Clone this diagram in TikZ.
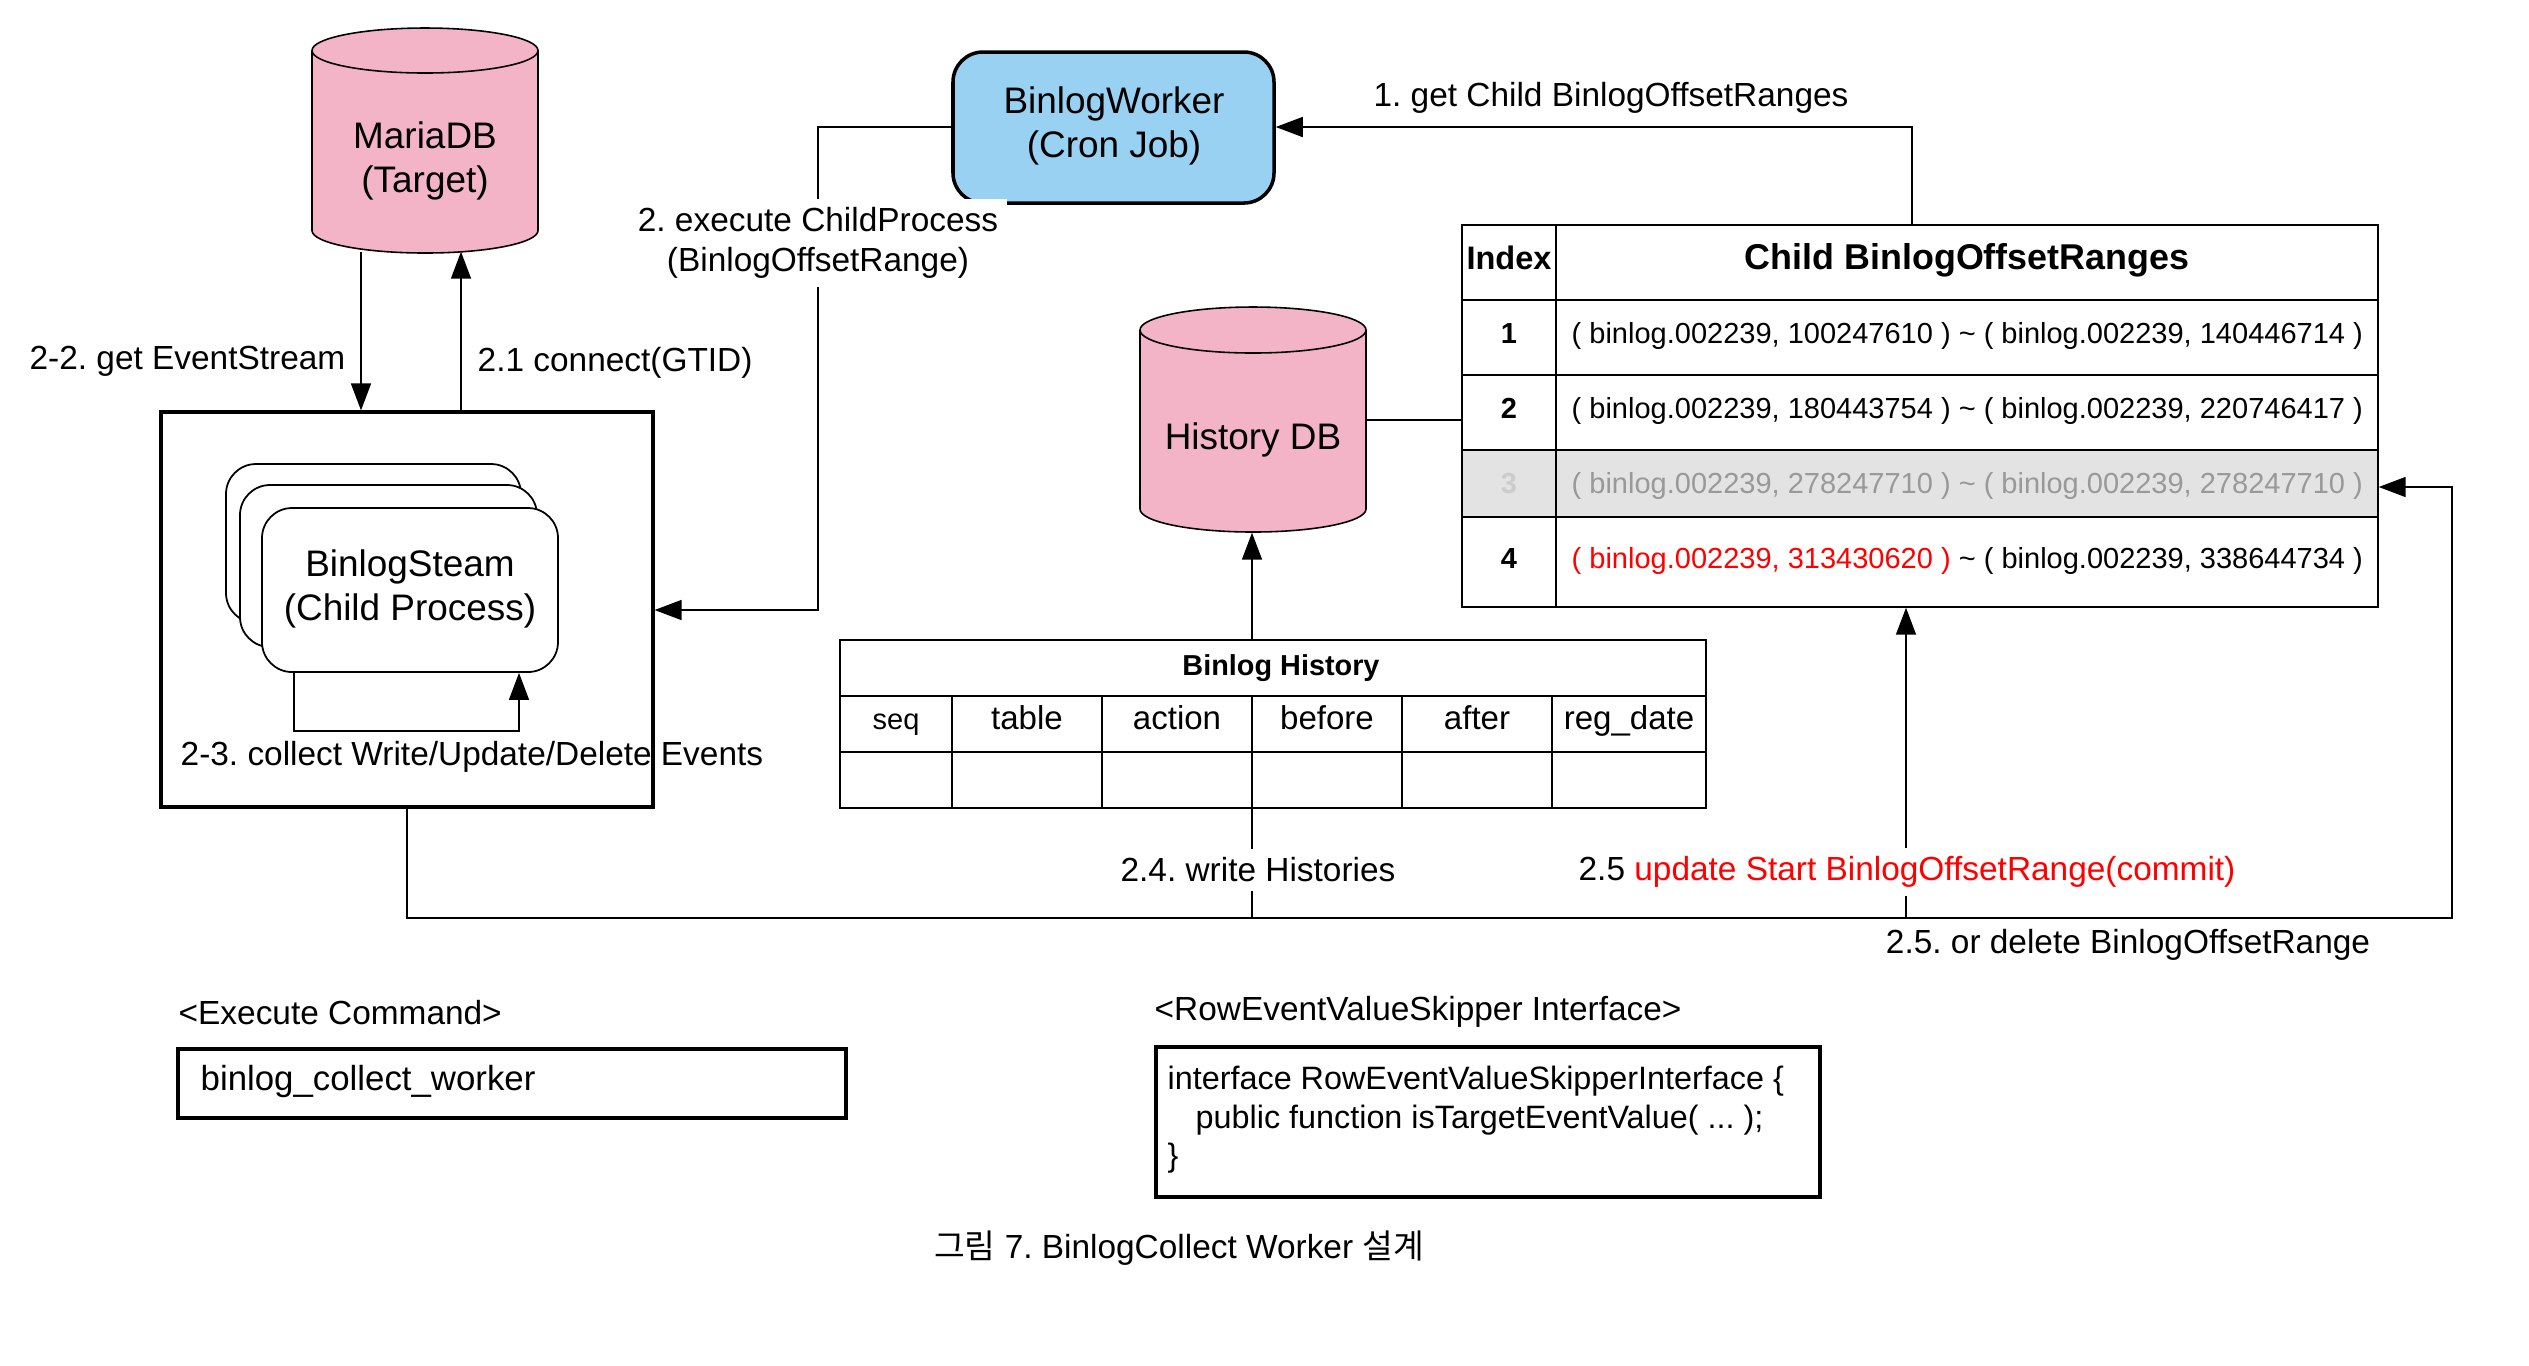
\documentclass[tikz,border=0pt]{standalone}
\usepackage{fontspec}
\setmainfont{Liberation Sans}
\newfontfamily\krfont{Noto Sans CJK KR}
\usetikzlibrary{arrows.meta,fit}
\definecolor{dbpink}{RGB}{244,180,199}
\definecolor{workerblue}{RGB}{153,209,242}
\definecolor{rowgrey}{RGB}{227,227,227}
\definecolor{txtgrey}{RGB}{153,153,153}
\definecolor{idxgrey}{RGB}{204,204,204}
\definecolor{hired}{RGB}{255,0,0}
\frenchspacing
\begin{document}
\frenchspacing
\begin{tikzpicture}[x=0.01cm,y=-0.01cm,
  conn/.style={line width=0.45pt,-{Triangle[length=0.27cm,width=0.2cm]}},
  plain/.style={line width=0.45pt},
  lbl/.style={font=\fontsize{9.5}{11.4}\selectfont, inner sep=0pt},
  wlbl/.style={lbl, fill=white, inner sep=2.5pt},
  codetxt/.style={font=\fontsize{9.2}{11}\selectfont, inner sep=0pt},
  nodetxt/.style={font=\fontsize{10.5}{12.6}\selectfont, align=center, inner sep=0pt},
  tbltxt/.style={font=\fontsize{8.25}{10}\selectfont, inner sep=0pt},
  colhead/.style={font=\fontsize{9.4}{11}\selectfont, inner sep=0pt, anchor=base},
  area/.style={inner sep=0pt},
  tblline/.style={line width=0.6pt},
  thinline/.style={line width=0.5pt},
  stackbox/.style={inner sep=0pt, draw, line width=0.5pt, fill=white, rounded corners=0.3cm},
  heavybox/.style={inner sep=0pt, draw, line width=0.9pt}
]
\useasboundingbox (0,0) rectangle (2529,1365);

% ---------- MariaDB cylinder ----------
\draw[fill=dbpink, line width=0.45pt] (312,50.5) -- (312,230.5)
  arc[start angle=180, end angle=0, x radius=113, y radius=22.5] -- (538,50.5)
  arc[start angle=0, end angle=-180, x radius=113, y radius=22.5] -- cycle;
\draw[line width=0.45pt] (312,50.5) arc[start angle=180, end angle=0, x radius=113, y radius=22.5];
\node[fit={(312,28) (538,251)}, area] (maria) {};
\node[nodetxt] (mariatxt) at (425,161) {MariaDB\\(Target)};

% ---------- History DB cylinder ----------
\draw[fill=dbpink, line width=0.45pt] (1140,330) -- (1140,509)
  arc[start angle=180, end angle=0, x radius=113, y radius=23] -- (1366,330)
  arc[start angle=0, end angle=-180, x radius=113, y radius=23] -- cycle;
\draw[line width=0.45pt] (1140,330) arc[start angle=180, end angle=0, x radius=113, y radius=23];
\node[fit={(1140,307) (1366,532)}, area] (hist) {};
\node[nodetxt] (histtxt) at (1253,440) {History DB};

% ---------- BinlogWorker ----------
\node[fit={(953,52) (1274,203)}, inner sep=0pt, draw, line width=1pt, fill=workerblue, rounded corners=0.3cm] (worker) {};
\node[nodetxt] (workertxt) at (1114,126) {BinlogWorker\\(Cron Job)};

% ---------- Big child-process box ----------
\node[fit={(161,412) (653,807)}, heavybox] (bigbox) {};
\node[fit={(226,464) (521,623)}, stackbox] (backrect) {};
\node[fit={(240,485) (537,647)}, stackbox] (midrect) {};
\node[fit={(262,508) (558,672)}, stackbox] (front) {};
\node[nodetxt] (fronttxt) at (410,589) {BinlogSteam\\(Child Process)};

% loop 2-3
\coordinate (lpL) at (294,731);
\coordinate (lpR) at (519,731);
\draw[conn] (front.south -| lpL) -- (lpL) -- (lpR) -- (front.south -| lpR);
\node[lbl, anchor=west] (l23) at (180,757) {2-3. collect Write/Update/Delete Events};

% MariaDB <-> big box
\coordinate (x22) at (361,0);
\coordinate (x21) at (461,0);
\draw[conn] (maria.south -| x22) -- (bigbox.north -| x22);
\draw[conn] (bigbox.north -| x21) -- (maria.south -| x21);
\node[lbl, anchor=east] (l22) at (346,361) {2-2. get EventStream};
\node[lbl, anchor=west] (l21) at (477,363) {2.1 connect(GTID)};

% worker -> big box
\coordinate (c2a) at (818,127);
\coordinate (c2b) at (818,610);
\draw[conn] (worker.west |- c2a) -- (c2a) -- (c2b) -- (bigbox.east |- c2b);
\node[wlbl, align=center] (l2) at (818,243) {2. execute ChildProcess\\(BinlogOffsetRange)};

% ---------- Child BinlogOffsetRanges table ----------
\node[fit={(1462,225) (2378,607)}, area] (childtbl) {};
\fill[rowgrey] (1462,450) rectangle (2378,517);
\draw[tblline] (1462,225) rectangle (2378,607);
\draw[tblline] (1462,300) -- (2378,300);
\draw[tblline] (1462,375) -- (2378,375);
\draw[tblline] (1462,450) -- (2378,450);
\draw[tblline] (1462,517) -- (2378,517);
\draw[tblline] (1556,225) -- (1556,607);
\node[font=\fontsize{9.25}{11}\selectfont\bfseries, inner sep=0pt, anchor=base] (hidx) at (1509,269) {Index};
\node[font=\fontsize{10.2}{12}\selectfont\bfseries, inner sep=0pt, anchor=base] (hrng) at (1967,269) {Child BinlogOffsetRanges};
\node[tbltxt, font=\fontsize{8.25}{10}\selectfont\bfseries, anchor=base] (i1) at (1509,343.5) {1};
\node[tbltxt, font=\fontsize{8.25}{10}\selectfont\bfseries, anchor=base] (i2) at (1509,418.5) {2};
\node[tbltxt, font=\fontsize{8.25}{10}\selectfont\bfseries, anchor=base, text=idxgrey] (i3) at (1509,493.5) {3};
\node[tbltxt, font=\fontsize{8.25}{10}\selectfont\bfseries, anchor=base] (i4) at (1509,568.5) {4};
\node[tbltxt, anchor=base west] (r1) at (1571,343.5) {( binlog.002239, 100247610 ) \textasciitilde{} ( binlog.002239, 140446714 )};
\node[tbltxt, anchor=base west] (r2) at (1571,418.5) {( binlog.002239, 180443754 ) \textasciitilde{} ( binlog.002239, 220746417 )};
\node[tbltxt, anchor=base west, text=txtgrey] (r3) at (1571,493.5) {( binlog.002239, 278247710 ) \textasciitilde{} ( binlog.002239, 278247710 )};
\node[tbltxt, anchor=base west] (r4) at (1571,568.5) {\textcolor{hired}{( binlog.002239, 313430620 )} \textasciitilde{} ( binlog.002239, 338644734 )};

% table -> worker
\coordinate (c1) at (1912,127);
\draw[conn] (childtbl.north -| c1) -- (c1) -- (worker.east |- c1);
\node[lbl] (l1) at (1611,98) {1. get Child BinlogOffsetRanges};

% History DB -- table
\coordinate (y420) at (0,420);
\draw[plain] (hist.east |- y420) -- (childtbl.west |- y420);

% ---------- bottom connectors ----------
\coordinate (b0) at (407,918);
\coordinate (b1) at (1252,918);
\coordinate (b2) at (1906,918);
\coordinate (b3) at (2452,918);
\coordinate (b3u) at (2452,487);
\draw[conn] (bigbox.south -| b0) -- (b0) -- (b1) -- (hist.south -| b1);
\draw[conn] (bigbox.south -| b0) -- (b0) -- (b2) -- (childtbl.south -| b2);
\draw[conn] (bigbox.south -| b0) -- (b0) -- (b3) -- (b3u) -- (childtbl.east |- b3u);

% ---------- Binlog History table ----------
\node[fit={(840,640) (1706,808)}, inner sep=0pt, draw, line width=0.6pt, fill=white] (histtbl) {};
\draw[tblline] (840,696) -- (1706,696);
\draw[tblline] (840,752) -- (1706,752);
\foreach \cx in {952,1102,1252,1402,1552} {\draw[thinline] (\cx,696) -- (\cx,808);}
\node[font=\fontsize{8.2}{10}\selectfont\bfseries, inner sep=0pt, anchor=base] (bhhead) at (1281,675) {Binlog History};
\node[tbltxt, anchor=base] (hseq) at (896,729) {seq};
\node[colhead] (htable) at (1027,729) {table};
\node[colhead] (haction) at (1177,729) {action};
\node[colhead] (hbefore) at (1327,729) {before};
\node[colhead] (hafter) at (1477,729) {after};
\node[colhead] (hreg) at (1629,729) {reg\_date};

% bottom labels
\node[wlbl] (l24) at (1258,870) {2.4. write Histories};
\node[wlbl] (l25) at (1907,872) {2.5 \textcolor{hired}{update Start BinlogOffsetRange(commit)}};
\node[lbl] (l25b) at (2128,945) {2.5. or delete BinlogOffsetRange};

% ---------- Execute command ----------
\node[lbl, anchor=west] (execlbl) at (178,1013) {<Execute Command>};
\node[fit={(178,1049) (846,1118)}, heavybox] (execbox) {};
\node[lbl, font=\fontsize{9.9}{11.8}\selectfont, anchor=west] (exectxt) at (200,1081) {binlog\_collect\_worker};

% ---------- Interface ----------
\node[lbl, anchor=west] (ifacelbl) at (1154,1012) {<RowEventValueSkipper Interface>};
\node[fit={(1156,1047) (1820,1197)}, heavybox] (ifacebox) {};
\node[codetxt, anchor=west] (if1) at (1167,1081) {interface RowEventValueSkipperInterface \{};
\node[codetxt, anchor=west] (if2) at (1195,1120) {public function isTargetEventValue( ... );};
\node[codetxt, anchor=west] (if3) at (1167,1158) {\}};

% ---------- caption ----------
\node[lbl] (caption) at (1179,1248) {{\krfont 그림} 7. BinlogCollect Worker {\krfont 설계}};
\end{tikzpicture}
\end{document}
